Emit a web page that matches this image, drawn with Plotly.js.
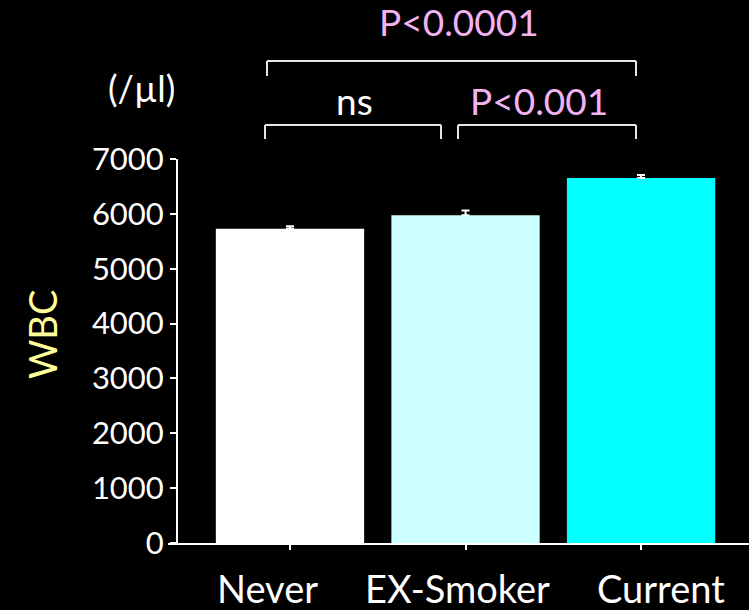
<!DOCTYPE html>
<html><head><meta charset="utf-8">
<script src="https://cdn.plot.ly/plotly-3.0.1.min.js"></script>
<style>html,body{margin:0;padding:0;background:#000;}#chart{width:749px;height:610px;}</style>
</head><body><div id="chart"></div>
<script>
const categories = ["Never", "EX-Smoker", "Current"];
const wbcMean = [5730, 5975, 6655];
const wbcSem = [45, 85, 55];
const barColors = ["#ffffff", "#ccffff", "#00ffff"];
const yTickVals = [0, 1000, 2000, 3000, 4000, 5000, 6000, 7000];
const labelShift = [-22, -8, 20];

const W = 749, H = 610;
const L = 168, R = 0, T = 159, B = 67;
const px = q => (q - L) / (W - L - R);
const py = p => (H - B - p) / (H - T - B);

const font = "Lato, 'Open Sans', sans-serif";
const pink = "#f2b3f2";

const trace = {
  type: "bar", x: categories, y: wbcMean, width: 0.845,
  marker: {color: barColors, line: {width: 0}},
  error_y: {type: "data", array: wbcSem, arrayminus: wbcSem.map(() => 0), symmetric: false,
            color: "#ffffff", thickness: 2, width: 4},
  hoverinfo: "none"
};

function bracket(x0, x1, yTop, yBot) {
  const line = {color: "#e6e6e6", width: 2};
  return [
    {type: "line", xref: "paper", yref: "paper", x0: px(x0), x1: px(x1), y0: py(yTop), y1: py(yTop), line},
    {type: "line", xref: "paper", yref: "paper", x0: px(x0), x1: px(x0), y0: py(yTop), y1: py(yBot), line},
    {type: "line", xref: "paper", yref: "paper", x0: px(x1), x1: px(x1), y0: py(yTop), y1: py(yBot), line}
  ];
}

const catLabels = categories.map((c, i) => ({
  text: c, xref: "x", yref: "paper", x: c, y: py(588), xshift: labelShift[i],
  showarrow: false, xanchor: "center", yanchor: "middle",
  font: {size: 38, color: "#ffffff", family: font}
}));

const layout = {
  width: W, height: H,
  paper_bgcolor: "#000", plot_bgcolor: "#000",
  margin: {l: L, r: R, t: T, b: B},
  showlegend: false,
  font: {family: font, color: "#ffffff", size: 24},
  xaxis: {
    type: "category", range: [-0.695, 2.615], showgrid: false, zeroline: false,
    showline: true, linecolor: "#ffffff", linewidth: 2,
    ticks: "outside", ticklen: 5, tickwidth: 2, tickcolor: "#ffffff",
    showticklabels: false
  },
  yaxis: {
    range: [0, 7000], tickvals: yTickVals, showgrid: false, zeroline: false,
    anchor: "free", position: px(177),
    showline: true, linecolor: "#ffffff", linewidth: 2,
    ticks: "outside", ticklen: 6, tickwidth: 2, tickcolor: "#ffffff",
    tickfont: {size: 31, family: font, color: "#ffffff"}
  },
  shapes: [].concat(bracket(267, 636, 61, 76), bracket(265, 441, 125, 139), bracket(458, 636, 125, 139)),
  annotations: catLabels.concat([
    {text: "P<0.0001", xref: "paper", yref: "paper", x: px(459), y: py(21), showarrow: false,
     font: {size: 37, color: pink, family: font}, xanchor: "center", yanchor: "middle"},
    {text: "ns", xref: "paper", yref: "paper", x: px(354), y: py(100), showarrow: false,
     font: {size: 37, color: "#ffffff", family: font}, xanchor: "center", yanchor: "middle"},
    {text: "P<0.001", xref: "paper", yref: "paper", x: px(539), y: py(100), showarrow: false,
     font: {size: 37, color: pink, family: font}, xanchor: "center", yanchor: "middle"},
    {text: "(/µl)", xref: "paper", yref: "paper", x: px(141), y: py(88), showarrow: false,
     font: {size: 36, color: "#ffffff", family: font}, xanchor: "center", yanchor: "middle"},
    {text: "WBC", xref: "paper", yref: "paper", x: px(42), y: py(335), showarrow: false, textangle: -90,
     font: {size: 38, color: "#ffff99", family: font}, xanchor: "center", yanchor: "middle"}
  ])
};

Plotly.newPlot("chart", [trace], layout, {staticPlot: true, displayModeBar: false});
</script></body></html>
